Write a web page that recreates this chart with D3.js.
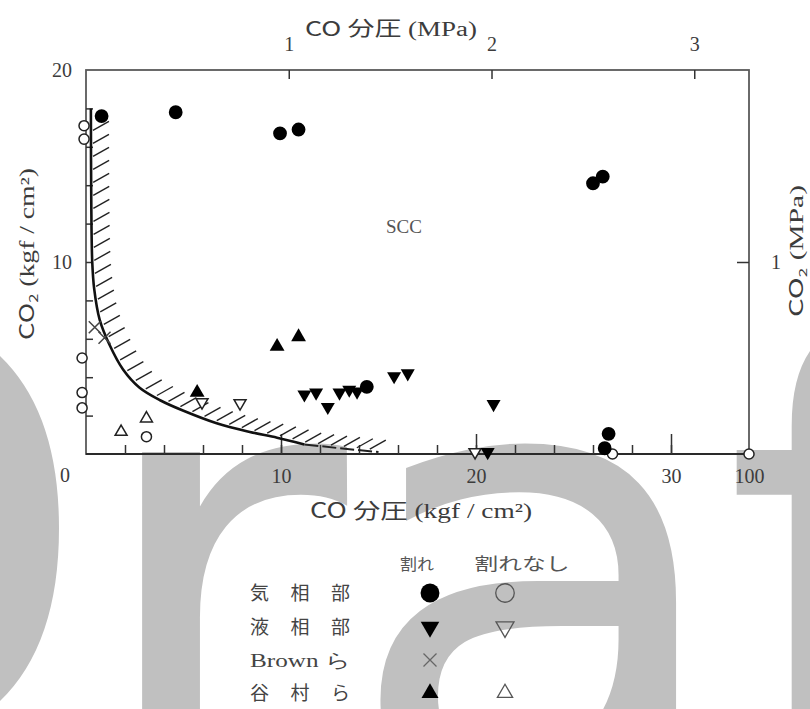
<!DOCTYPE html>
<html>
<head>
<meta charset="utf-8">
<script src="https://cdn.jsdelivr.net/npm/d3@7"></script>
<style>
  body { margin: 0; background: #fff; }
  svg { display: block; }
  text { font-family: "Liberation Serif", "Times New Roman", "DejaVu Serif", serif; fill: #3c3c3c; }
  .cjk { font-family: "Noto Sans CJK JP", sans-serif; }
  .sans { font-family: "Noto Sans CJK JP", "DejaVu Sans", sans-serif; }
  .wm { font-family: "DejaVu Sans", sans-serif; fill: #c0c0c0; }
</style>
</head>
<body>
<div id="chart"></div>
<script>
// values (x: CO partial pressure kgf/cm2, y: CO2 kgf/cm2)
const crackGas = [[0.8, 17.6], [4.6, 17.8], [9.95, 16.7], [10.9, 16.9], [26.0, 14.1], [26.5, 14.45],
  [14.4, 3.5], [26.8, 1.05], [26.6, 0.3]];
const noCrackGas = [[-0.1, 17.1], [-0.1, 16.4], [-0.2, 5.0], [-0.2, 3.2], [-0.2, 2.4], [3.1, 0.9], [27.0, 0], [100, 0]];
const crackLiquid = [[11.2, 3.1], [11.8, 3.2], [12.4, 2.45], [13.0, 3.2], [13.5, 3.35], [13.9, 3.25],
  [15.8, 4.05], [16.5, 4.2], [20.9, 2.6], [20.6, 0.1]];
const noCrackLiquid = [[5.95, 2.7], [7.9, 2.65], [19.95, 0.1]];
const brown = [[0.45, 6.6], [0.95, 6.05]];
const tanimuraCrack = [[5.7, 3.2], [9.8, 5.6], [10.9, 6.1]];
const tanimuraNoCrack = [[1.8, 1.15], [3.1, 1.85]];

// SCC boundary
const boundary = [[0.25, 18.0], [0.27, 13.2], [0.32, 10.0], [0.42, 8.6], [0.7, 7.0], [1.2, 5.7], [1.9, 4.4],
  [2.75, 3.45], [3.8, 2.8], [5.0, 2.25], [6.7, 1.6], [8.4, 1.15], [9.8, 0.85], [11.2, 0.5]];
const boundaryDashed = [[11.2, 0.5], [13.0, 0.3], [15.0, 0.1]];

// ticks
const xMinorTicks = d3.range(2, 31, 2);
const xMajorTicks = [10, 20, 30];
const xLabels = [10, 20, 30, 100];
const yMinorTicks = d3.range(2, 19, 2);
const yLabels = [10, 20];
const mpaTopTicks = [1, 2, 3];
const mpaRightTicks = [1];

const legendRows = ['気 相 部', '液 相 部', 'Brown ら', '谷 村 ら'];
const legendHeads = ['割れ', '割れなし'];

const width = 810;
const height = 709;
const plot = { left: 86, right: 749, top: 70, bottom: 454 };

const xUnit = (plot.right - plot.left) / 34;
const x = d3.scaleLinear()
  .domain([0, 30, 100])
  .range([plot.left, plot.left + 30 * xUnit, plot.right]);
const y = d3.scaleLinear().domain([0, 20]).range([plot.bottom, plot.top]);
const xMPa = d3.scaleLinear().domain([0, 3.27]).range([plot.left, plot.right]);
const yMPa = d3.scaleLinear().domain([0, 2]).range([plot.bottom, plot.top]);

const svg = d3.select('#chart').append('svg')
  .attr('width', width)
  .attr('height', height)
  .attr('viewBox', `0 0 ${width} ${height}`);

// watermark behind everything
const wm = svg.append('text').attr('class', 'wm').attr('font-size', 640);
[['D', -396, 762], ['r', 84, 802], ['a', 342, 802], ['f', 722, 800], ['t', 950, 802]].forEach(([ch, px, py]) => {
  wm.append('tspan').attr('x', px).attr('y', py).text(ch);
});

// frame
svg.append('rect')
  .attr('x', plot.left).attr('y', plot.top)
  .attr('width', plot.right - plot.left).attr('height', plot.bottom - plot.top)
  .attr('fill', 'none').attr('stroke', '#5a5a5a').attr('stroke-width', 1.8);
svg.append('line')
  .attr('x1', plot.left).attr('x2', plot.right)
  .attr('y1', plot.bottom).attr('y2', plot.bottom)
  .attr('stroke', '#2a2a2a').attr('stroke-width', 2);

function styleAxis(g, size) {
  g.select('.domain').remove();
  g.attr('font-family', null).attr('font-size', size);
  g.selectAll('line').attr('stroke', '#333').attr('stroke-width', 1.5);
  return g;
}
const fmt = d3.format('d');

// bottom axis (kgf/cm2)
styleAxis(svg.append('g').attr('transform', `translate(0,${plot.bottom})`)
  .call(d3.axisBottom(x).tickValues(xMinorTicks).tickSize(-9).tickFormat('')), 20);
styleAxis(svg.append('g').attr('transform', `translate(0,${plot.bottom})`)
  .call(d3.axisBottom(x).tickValues(xMajorTicks).tickSize(-20).tickFormat('')), 20);
styleAxis(svg.append('g').attr('transform', `translate(0,${plot.bottom})`)
  .call(d3.axisBottom(x).tickValues(xLabels).tickSize(0).tickPadding(15).tickFormat(fmt)), 20);

// left axis (kgf/cm2)
styleAxis(svg.append('g').attr('transform', `translate(${plot.left},0)`)
  .call(d3.axisLeft(y).tickValues(yMinorTicks).tickSize(-7).tickFormat('')), 20);
styleAxis(svg.append('g').attr('transform', `translate(${plot.left},0)`)
  .call(d3.axisLeft(y).tickValues(yLabels).tickSize(0).tickPadding(14).tickFormat(fmt)), 20);
svg.append('text').attr('x', 70).attr('y', 482).attr('text-anchor', 'end')
  .attr('font-size', 20).text('0');

// top axis (MPa)
styleAxis(svg.append('g').attr('transform', `translate(0,${plot.top})`)
  .call(d3.axisTop(xMPa).tickValues(mpaTopTicks).tickSize(-9).tickPadding(19).tickFormat(fmt)), 20);

// right axis (MPa)
styleAxis(svg.append('g').attr('transform', `translate(${plot.right},0)`)
  .call(d3.axisRight(yMPa).tickValues(mpaRightTicks).tickSize(-12).tickPadding(22).tickFormat(fmt)), 20);

// axis titles
function title(tx, ty, rot, size, len, parts) {
  const t = svg.append('text')
    .attr('transform', `translate(${tx},${ty}) rotate(${rot})`)
    .attr('text-anchor', 'middle').attr('font-size', size)
    .attr('textLength', len).attr('lengthAdjust', 'spacingAndGlyphs');
  parts.forEach(([str, cls, fs, dy]) => {
    const s = t.append('tspan').text(str);
    if (cls) s.attr('class', cls);
    if (fs) s.attr('font-size', fs);
    if (dy) s.attr('dy', dy);
  });
  return t;
}
title(391, 36, 0, 20, 172, [['CO ', 'sans'], ['分圧', 'cjk'], [' (MPa)']]);
title(421, 518, 0, 21, 222, [['CO ', 'sans'], ['分圧', 'cjk'], [' (kgf / cm²)']]);
title(34, 254, -90, 20, 172, [['CO', 'sans'], ['2', 'sans', 12, 4], [' (kgf / cm²)', null, null, -4]]);
title(803, 251, -90, 19, 132, [['CO', 'sans'], ['2', 'sans', 11, 4], [' (MPa)', null, null, -4]]);

svg.append('text').attr('x', 404).attr('y', 233).attr('text-anchor', 'middle')
  .attr('font-size', 19).style('fill', '#555').text('SCC');

// boundary curve with hatching
const line = d3.line().x((d) => x(d[0])).y((d) => y(d[1])).curve(d3.curveCatmullRom.alpha(0.5));
const curvePath = svg.append('path').datum(boundary).attr('d', line)
  .attr('fill', 'none').attr('stroke', '#111').attr('stroke-width', 2.6);
const dashPath = svg.append('path').datum(boundaryDashed)
  .attr('d', d3.line().x((d) => x(d[0])).y((d) => y(d[1])))
  .attr('fill', 'none').attr('stroke', '#222').attr('stroke-width', 2)
  .attr('stroke-dasharray', '14,4');

const hatchPts = [];
let offset = 24;
[curvePath.node(), dashPath.node()].forEach((node) => {
  const len = node.getTotalLength();
  let s = offset;
  for (; s < len; s += 13) hatchPts.push(node.getPointAtLength(s));
  offset = s - len;
});
svg.append('g').selectAll('line').data(hatchPts).join('line')
  .attr('x1', (p) => p.x + 2).attr('y1', (p) => p.y - 2)
  .attr('x2', (p) => p.x + 18).attr('y2', (p) => p.y - 11)
  .attr('stroke', '#222').attr('stroke-width', 1.4);

// markers
function markerPath(kind, size) {
  if (kind === 'x') {
    const a = size;
    return `M${-a},${-a}L${a},${a}M${-a},${a}L${a},${-a}`;
  }
  const type = kind === 'circle' ? d3.symbolCircle : d3.symbolTriangle;
  return d3.symbol().type(type).size(size)();
}

const plotStyles = {
  gasCrack: { kind: 'circle', size: 150, fill: '#000', stroke: 'none', rot: 0 },
  gasNo: { kind: 'circle', size: 80, fill: '#fff', stroke: '#222', rot: 0 },
  liqCrack: { kind: 'tri', size: 85, fill: '#000', stroke: 'none', rot: 180 },
  liqNo: { kind: 'tri', size: 62, fill: '#fff', stroke: '#222', rot: 180 },
  brown: { kind: 'x', size: 6, fill: 'none', stroke: '#444', rot: 0 },
  tanCrack: { kind: 'tri', size: 95, fill: '#000', stroke: 'none', rot: 0 },
  tanNo: { kind: 'tri', size: 62, fill: '#fff', stroke: '#222', rot: 0 },
};

const series = [
  { data: noCrackGas, style: plotStyles.gasNo },
  { data: noCrackLiquid, style: plotStyles.liqNo },
  { data: tanimuraNoCrack, style: plotStyles.tanNo },
  { data: brown, style: plotStyles.brown },
  { data: crackLiquid, style: plotStyles.liqCrack },
  { data: tanimuraCrack, style: plotStyles.tanCrack },
  { data: crackGas, style: plotStyles.gasCrack },
];

series.forEach(({ data, style }) => {
  svg.append('g').selectAll('path').data(data).join('path')
    .attr('transform', (d) => `translate(${x(d[0])},${y(d[1])}) rotate(${style.rot})`)
    .attr('d', markerPath(style.kind, style.size))
    .attr('fill', style.fill)
    .attr('stroke', style.stroke)
    .attr('stroke-width', 1.5);
});

// legend
const legendX = 250;
const legendRowY = [593, 627, 660, 693];
const legendColX = [430, 505];
const legendStyles = [
  [{ kind: 'circle', size: 280, fill: '#000', stroke: 'none', rot: 0 },
   { kind: 'circle', size: 270, fill: 'none', stroke: '#555', rot: 0 }],
  [{ kind: 'tri', size: 150, fill: '#000', stroke: 'none', rot: 180 },
   { kind: 'tri', size: 140, fill: 'none', stroke: '#555', rot: 180 }],
  [{ kind: 'x', size: 6.5, fill: 'none', stroke: '#666', rot: 0 }, null],
  [{ kind: 'tri', size: 125, fill: '#000', stroke: 'none', rot: 0 },
   { kind: 'tri', size: 100, fill: 'none', stroke: '#555', rot: 0 }],
];

svg.append('text').attr('class', 'cjk').attr('x', 417).attr('y', 570).attr('text-anchor', 'middle')
  .attr('font-size', 16).attr('textLength', 34).attr('lengthAdjust', 'spacingAndGlyphs')
  .style('fill', '#555').text(legendHeads[0]);
svg.append('text').attr('class', 'cjk').attr('x', 522).attr('y', 570).attr('text-anchor', 'middle')
  .attr('font-size', 17).attr('textLength', 95).attr('lengthAdjust', 'spacingAndGlyphs')
  .style('fill', '#555').text(legendHeads[1]);

legendRows.forEach((label, i) => {
  const isLatin = /[A-Za-z]/.test(label);
  svg.append('text').attr('class', isLatin ? null : 'cjk')
    .attr('x', legendX).attr('y', legendRowY[i] + 7)
    .attr('font-size', 19).attr('textLength', 100)
    .attr('lengthAdjust', isLatin ? 'spacingAndGlyphs' : 'spacing')
    .style('fill', '#444').text(label);
  legendStyles[i].forEach((st, j) => {
    if (!st) return;
    svg.append('path')
      .attr('transform', `translate(${legendColX[j]},${legendRowY[i]}) rotate(${st.rot})`)
      .attr('d', markerPath(st.kind, st.size))
      .attr('fill', st.fill).attr('stroke', st.stroke).attr('stroke-width', 1.3);
  });
});
</script>
</body>
</html>
